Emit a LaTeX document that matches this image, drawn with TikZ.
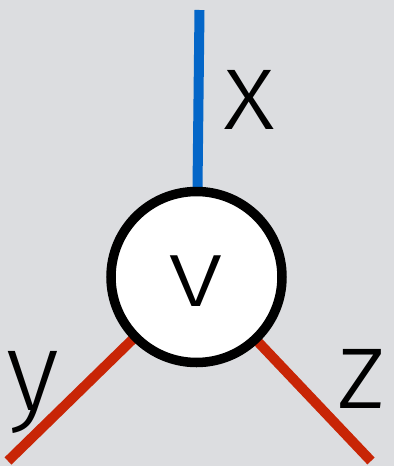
\documentclass[tikz,border=0pt]{standalone}
\usepackage{fontspec}
\setmainfont{Fira Sans}[UprightFont={* Light}]
\definecolor{backgrey}{HTML}{DCDDE0}
\definecolor{edgeblue}{HTML}{0466C8}
\definecolor{edgered}{HTML}{C82506}
\begin{document}
\begin{tikzpicture}[x=1pt,y=-1pt,
  edge/.style={line width=10pt},
  vertex/.style={circle,draw=black,fill=white,line width=9.5pt,minimum size=171pt,inner sep=0pt},
  leg/.style={anchor=base,inner sep=0pt,font=\fontsize{113}{113}\selectfont}]
  % background
  \fill[backgrey] (0,0) rectangle (394,466);
  \useasboundingbox (0,0) rectangle (394,466);
  % end points of the three edges
  \coordinate (c) at (196.5,277);
  \coordinate (xend) at (199.5,10);
  \coordinate (yend) at (8,461);
  \coordinate (zend) at (371,461);
  \draw[edge,edgeblue] (xend) -- (c);
  \draw[edge,edgered] (yend) -- (c);
  \draw[edge,edgered] (zend) -- (c);
  % the vertex
  \node[vertex] (v) at (c) {};
  \node[anchor=base,inner sep=0pt,xscale=1.2,font=\fontsize{97}{97}\selectfont] (vlabel) at (196,306) {v};
  % edge labels
  \node[leg] (xlabel) at (249,129) {x};
  \node[leg] (ylabel) at (33,410) {y};
  \node[leg] (zlabel) at (361,408) {z};
\end{tikzpicture}
\end{document}
